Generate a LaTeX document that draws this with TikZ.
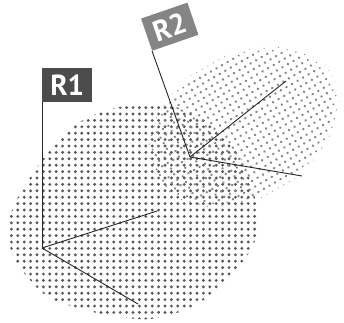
\documentclass[tikz,border=0pt]{standalone}
\usepackage{fontspec}
\setsansfont{PT Sans}
\begin{document}
\begin{tikzpicture}[x=1pt,y=1pt,
  axisline/.style={draw=black!85, line width=0.9pt},
  flagtext/.style={text=white, font=\sffamily\bfseries\fontsize{29}{29}\selectfont, inner sep=0pt, minimum width=50pt, minimum height=34pt},
  dotA/.style={fill=black!65},
  dotB/.style={fill=black!48}]
\useasboundingbox (0,0) rectangle (344,322);
% R1 dotted region
\begin{scope}
  \clip plot[smooth cycle, tension=0.6] coordinates {(150,219) (190,210) (217,192) (237,170) (250,142) (257,112) (257,87) (242,59) (217,32) (187,13) (150,3) (115,6) (85,12) (50,24) (30,42) (14,64) (8,90) (14,117) (37,155) (52,174) (72,195) (105,211)};
  \foreach \i in {-22,...,22}
    \foreach \j in {-18,...,18}
      \fill[dotA] (133+\i*6.4, 112+\j*6.4) circle (1.6);
\end{scope}
% R2 dotted region
\begin{scope}[shift={(243,195)}, rotate=30]
  \foreach \i in {-17,...,17}
    \foreach \j in {-12,...,12}{
      \pgfmathsetmacro\rr{(\i*6.4/106)^2+(\j*6.4/74)^2}
      \pgfmathsetmacro\rad{1.35*min(1,max(0,(1-\rr)*5))}
      \ifdim\rad pt>0.15pt
        \fill[dotB] (\i*6.4, \j*6.4) circle (\rad);
      \fi
    }
\end{scope}
% R1 frame
\coordinate (o1) at (42,74);
\coordinate (p1) at (42,220);
\coordinate (a1) at (157,111);
\coordinate (b1) at (138,18);
\node[flagtext, fill=black!70, anchor=south west] (f1) at (p1) {R1};
\draw[axisline] (p1) -- (o1);
\draw[axisline] (o1) -- (a1);
\draw[axisline] (o1) -- (b1);
% R2 frame
\coordinate (o2) at (190,165);
\coordinate (p2) at (152,271);
\coordinate (a2) at (286,241);
\coordinate (b2) at (302,146);
\node[flagtext, fill=black!48, anchor=south west, rotate=19, minimum width=49pt] (f2) at (p2) {R2};
\draw[axisline] (p2) -- (o2);
\draw[axisline] (o2) -- (a2);
\draw[axisline] (o2) -- (b2);
\end{tikzpicture}
\end{document}
